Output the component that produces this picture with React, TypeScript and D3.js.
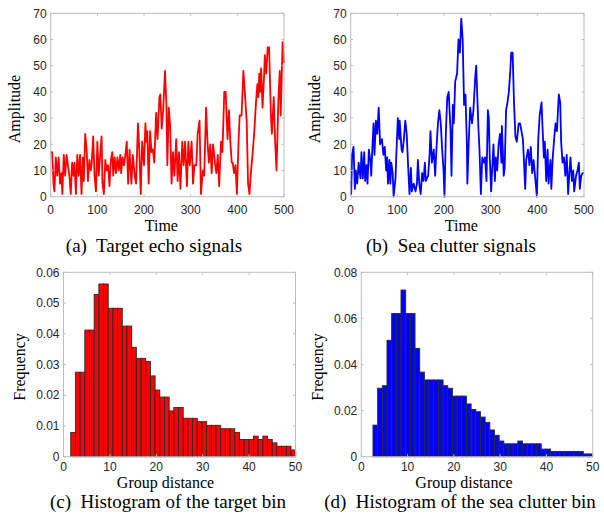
import React from 'react';
import * as d3 from 'd3';

// (a) target echo signal
const echoTime = [0, 3, 6, 8, 11, 14, 17, 20, 23, 25, 28, 31, 34, 37, 40, 43, 46, 49, 51, 54, 57, 60, 63, 66, 69, 71, 74, 77, 80, 83, 86, 88, 91, 94, 97, 100, 103, 106, 109, 111, 114, 117, 120, 123, 126, 129, 132, 134, 137, 140, 143, 146, 149, 151, 154, 157, 160, 163, 166, 169, 173, 176, 180, 183, 187, 190, 193, 196, 200, 203, 205, 207, 210, 213, 216, 219, 222, 226, 229, 233, 235, 238, 241, 245, 248, 250, 253, 256, 259, 262, 265, 269, 272, 275, 278, 282, 285, 288, 292, 295, 298, 302, 305, 308, 312, 315, 319, 322, 326, 329, 333, 336, 339, 342, 345, 348, 352, 355, 358, 361, 365, 368, 372, 375, 379, 382, 385, 388, 390, 393, 396, 399, 403, 405, 409, 413, 416, 420, 423, 426, 429, 433, 436, 440, 443, 445, 447, 449, 451, 454, 457, 459, 462, 465, 468, 472, 474, 478, 481, 484, 488, 491, 493, 497, 500];
const echoAmp = [17, 17, 5, 2, 15, 8, 15, 5, 9, 1, 16, 8, 16, 12, 8, 1, 13, 8, 13, 1, 16, 8, 16, 1, 15, 6, 24, 18, 6, 14, 10, 13, 23, 8, 2, 21, 8, 16, 23, 5, 1, 14, 10, 12, 4, 14, 17, 8, 15, 9, 15, 10, 16, 9, 15, 12, 16, 21, 5, 18, 5, 16, 8, 5, 28, 17, 1, 21, 12, 28, 21, 25, 5, 25, 17, 18, 13, 32, 22, 38, 39, 26, 33, 48, 35, 12, 34, 27, 5, 17, 8, 22, 6, 17, 3, 21, 12, 21, 4, 21, 12, 21, 5, 12, 12, 24, 29, 1, 10, 8, 34, 21, 13, 20, 9, 20, 13, 9, 16, 4, 21, 17, 40, 40, 22, 33, 21, 13, 13, 9, 12, 1, 23, 31, 31, 48, 40, 29, 5, 1, 9, 17, 24, 36, 43, 38, 47, 40, 49, 34, 45, 54, 47, 57, 57, 31, 24, 38, 21, 10, 37, 48, 31, 59, 51];

// (b) sea clutter signal
const clutterTime = [0, 1, 3, 6, 9, 11, 14, 17, 21, 23, 26, 29, 31, 34, 36, 39, 42, 44, 47, 49, 51, 54, 57, 60, 63, 67, 70, 73, 76, 78, 80, 83, 85, 87, 90, 92, 96, 98, 101, 104, 105, 109, 111, 114, 117, 120, 123, 126, 129, 131, 135, 139, 142, 144, 147, 150, 153, 156, 159, 161, 166, 169, 171, 174, 178, 181, 184, 187, 190, 193, 196, 199, 201, 204, 207, 210, 214, 216, 219, 221, 224, 228, 231, 234, 237, 240, 243, 246, 249, 250, 253, 256, 260, 263, 267, 269, 272, 274, 276, 279, 282, 285, 288, 291, 294, 296, 298, 301, 303, 306, 309, 311, 314, 317, 320, 323, 324, 328, 330, 333, 336, 339, 342, 344, 347, 350, 353, 356, 360, 363, 366, 369, 371, 374, 376, 380, 383, 386, 389, 392, 395, 399, 402, 405, 409, 411, 414, 416, 419, 422, 424, 428, 430, 433, 436, 439, 442, 446, 449, 451, 454, 457, 460, 463, 466, 469, 471, 474, 477, 479, 483, 486, 489, 491, 494, 497, 500];
const clutterAmp = [6, 1, 16, 19, 3, 10, 5, 13, 7, 17, 7, 17, 6, 12, 5, 18, 14, 8, 21, 28, 16, 29, 24, 34, 20, 22, 16, 19, 10, 15, 5, 14, 5, 13, 9, 0, 7, 17, 30, 22, 29, 18, 17, 22, 29, 24, 12, 1, 11, 2, 5, 2, 5, 14, 5, 1, 9, 6, 13, 6, 8, 16, 25, 13, 18, 8, 19, 28, 33, 28, 18, 10, 0, 25, 38, 40, 25, 8, 35, 28, 44, 47, 60, 55, 68, 60, 35, 39, 20, 5, 21, 34, 28, 33, 46, 50, 35, 25, 18, 1, 15, 13, 15, 6, 33, 30, 15, 2, 10, 20, 6, 15, 10, 20, 24, 13, 27, 8, 11, 33, 36, 40, 48, 55, 55, 36, 23, 21, 28, 28, 25, 22, 15, 3, 14, 18, 12, 19, 9, 14, 8, 0, 22, 31, 36, 27, 15, 21, 6, 18, 5, 14, 3, 15, 22, 28, 25, 39, 36, 21, 13, 15, 8, 16, 1, 10, 15, 6, 10, 2, 8, 10, 13, 3, 8, 9, 9];

// (c) histogram of the target bin: 49 bins from 0.55, width 1.01
const targetBinStart = 0.55;
const targetBinWidth = 1.01;
const targetFreq = [0, 0.0079, 0.0275, 0.0275, 0.0412, 0.0412, 0.0528, 0.0562, 0.0562, 0.0483, 0.0483, 0.0483, 0.0425, 0.0425, 0.0356, 0.032, 0.032, 0.031, 0.0263, 0.0217, 0.0194, 0.0194, 0.0149, 0.016, 0.016, 0.0125, 0.0125, 0.0125, 0.0114, 0.0114, 0.0102, 0.0102, 0.0102, 0.0091, 0.0091, 0.0091, 0.0079, 0.0056, 0.0056, 0.0056, 0.0067, 0.0056, 0.0067, 0.0056, 0.0045, 0.0034, 0.0034, 0.0034, 0.0022];

// (d) histogram of the sea clutter bin: 49 bins from 0.5, width 1.01
const clutterBinStart = 0.5;
const clutterBinWidth = 1.01;
const clutterFreq = [0, 0, 0.0137, 0.0297, 0.0308, 0.0505, 0.0621, 0.0621, 0.0723, 0.0621, 0.0621, 0.047, 0.0367, 0.0333, 0.0333, 0.0333, 0.0333, 0.0308, 0.0297, 0.0263, 0.0263, 0.0263, 0.0229, 0.0205, 0.0195, 0.0172, 0.0149, 0.0116, 0.0093, 0.0068, 0.0056, 0.0056, 0.0056, 0.0068, 0.0056, 0.0056, 0.0056, 0.0056, 0.0033, 0.0033, 0.0023, 0.0023, 0.0023, 0.0023, 0.0023, 0.0023, 0.0023, 0.0012, 0.0012];

const timeTicks = [0, 100, 200, 300, 400, 500];
const ampTicks = [0, 10, 20, 30, 40, 50, 60, 70];
const distTicks = [0, 10, 20, 30, 40, 50];
const targetFreqTicks = [0, 0.01, 0.02, 0.03, 0.04, 0.05, 0.06];
const clutterFreqTicks = [0, 0.02, 0.04, 0.06, 0.08];

const SANS = '"Liberation Sans", Arial, sans-serif';
const SERIF = '"Liberation Serif", "Times New Roman", serif';
const BOX = '#bdbdbd';
const TICK_TEXT = '#262626';
const TL = 2.5;

interface Frame {
  left: number; top: number; right: number; bottom: number;
}

interface AxesProps {
  f: Frame;
  x: d3.ScaleLinear<number, number>;
  y: d3.ScaleLinear<number, number>;
  xTicks: number[];
  yTicks: number[];
  xLabel: string;
  xLabelX: number;
  xLabelY: number;
  yLabel: string;
  yLabelX: number;
  yLabelY: number;
  xTickGap: number;
  caption: string;
  captionX: number;
  captionY: number;
}

const fmt = (v: number) => (v === 0 ? '0' : String(+v.toFixed(2)));

const Axes: React.FC<AxesProps> = ({ f, x, y, xTicks, yTicks, xLabel, xLabelX, xLabelY, yLabel, yLabelX, yLabelY, xTickGap, caption, captionX, captionY }) => (
  <g>
    <rect x={f.left} y={f.top} width={f.right - f.left} height={f.bottom - f.top} fill="none" stroke={BOX} strokeWidth={1} />
    {xTicks.map(t => (
      <g key={'x' + t}>
        <line x1={x(t)} x2={x(t)} y1={f.bottom} y2={f.bottom - TL} stroke={BOX} />
        <line x1={x(t)} x2={x(t)} y1={f.top} y2={f.top + TL} stroke={BOX} />
        <text x={x(t)} y={f.bottom + xTickGap} textAnchor="middle" fontFamily={SANS} fontSize={12} fill={TICK_TEXT}>{fmt(t)}</text>
      </g>
    ))}
    {yTicks.map(t => (
      <g key={'y' + t}>
        <line x1={f.left} x2={f.left + TL} y1={y(t)} y2={y(t)} stroke={BOX} />
        <line x1={f.right} x2={f.right - TL} y1={y(t)} y2={y(t)} stroke={BOX} />
        <text x={f.left - 4} y={y(t)} dy="0.35em" textAnchor="end" fontFamily={SANS} fontSize={12} fill={TICK_TEXT}>{fmt(t)}</text>
      </g>
    ))}
    <text x={xLabelX} y={xLabelY} textAnchor="middle" fontFamily={SERIF} fontSize={16} fill="#000">{xLabel}</text>
    <text transform={`translate(${yLabelX},${yLabelY}) rotate(-90)`} textAnchor="middle" fontFamily={SERIF} fontSize={16} fill="#000">{yLabel}</text>
    <text x={captionX} y={captionY} textAnchor="middle" fontFamily={SERIF} fontSize={19} fill="#000" style={{ whiteSpace: 'pre' }}>{caption}</text>
  </g>
);

const LinePanel: React.FC<{ f: Frame; times: number[]; values: number[]; color: string; caption: string; captionX: number; labelShift: number; yLabelX: number }> = ({ f, times, values, color, caption, captionX, labelShift, yLabelX }) => {
  const x = d3.scaleLinear().domain([0, 500]).range([f.left, f.right]);
  const y = d3.scaleLinear().domain([0, 70]).range([f.bottom, f.top]);
  const line = d3.line<number>().x((_, i) => x(times[i])).y(d => y(d));
  return (
    <g>
      <path d={line(values) || ''} fill="none" stroke={color} strokeWidth={1.8} strokeLinejoin="round" />
      <Axes f={f} x={x} y={y} xTicks={timeTicks} yTicks={ampTicks}
        xLabel="Time" xLabelX={(f.left + f.right) / 2 + labelShift} xLabelY={231}
        yLabel="Amplitude" yLabelX={yLabelX} yLabelY={109} xTickGap={17}
        caption={caption} captionX={captionX} captionY={252} />
    </g>
  );
};

const HistPanel: React.FC<{ f: Frame; freq: number[]; binStart: number; binWidth: number; yMax: number; yTicks: number[]; color: string; caption: string; captionX: number; labelShift: number; yLabelX: number }> = ({ f, freq, binStart, binWidth, yMax, yTicks, color, caption, captionX, labelShift, yLabelX }) => {
  const x = d3.scaleLinear().domain([0, 50]).range([f.left, f.right]);
  const y = d3.scaleLinear().domain([0, yMax]).range([f.bottom, f.top]);
  return (
    <g>
      {freq.map((v, i) => {
        const x0 = x(binStart + i * binWidth);
        const x1 = x(binStart + (i + 1) * binWidth);
        return <rect key={i} x={x0} y={y(v)} width={x1 - x0} height={y(0) - y(v)} fill={color} stroke="#2b2b2b" strokeWidth={0.9} />;
      })}
      <Axes f={f} x={x} y={y} xTicks={distTicks} yTicks={yTicks}
        xLabel="Group distance" xLabelX={(f.left + f.right) / 2 + labelShift} xLabelY={488}
        yLabel="Frequency" yLabelX={yLabelX} yLabelY={367} xTickGap={14}
        caption={caption} captionX={captionX} captionY={508} />
    </g>
  );
};

export default function App() {
  return (
    <svg width={604} height={514} style={{ position: 'absolute', left: 0, top: 0, background: '#fff' }}>
      <rect width={604} height={514} fill="#fff" />
      <LinePanel f={{ left: 50.7, top: 13.3, right: 284, bottom: 196.7 }} times={echoTime} values={echoAmp} color="#ff0000"
        caption="(a)  Target echo signals" captionX={154} labelShift={-6} yLabelX={20} />
      <LinePanel f={{ left: 350.7, top: 13.3, right: 584, bottom: 196.7 }} times={clutterTime} values={clutterAmp} color="#0000ff"
        caption="(b)  Sea clutter signals" captionX={451} labelShift={-6} yLabelX={320} />
      <HistPanel f={{ left: 63.5, top: 272.3, right: 295.5, bottom: 456.7 }} freq={targetFreq} binStart={targetBinStart} binWidth={targetBinWidth}
        yMax={0.06} yTicks={targetFreqTicks} color="#ff0000" caption="(c)  Histogram of the target bin" captionX={168} labelShift={-14} yLabelX={25} />
      <HistPanel f={{ left: 361.3, top: 272.3, right: 592.7, bottom: 456.7 }} freq={clutterFreq} binStart={clutterBinStart} binWidth={clutterBinWidth}
        yMax={0.08} yTicks={clutterFreqTicks} color="#0000ff" caption="(d)  Histogram of the sea clutter bin" captionX={460} labelShift={-13} yLabelX={323} />
    </svg>
  );
}
